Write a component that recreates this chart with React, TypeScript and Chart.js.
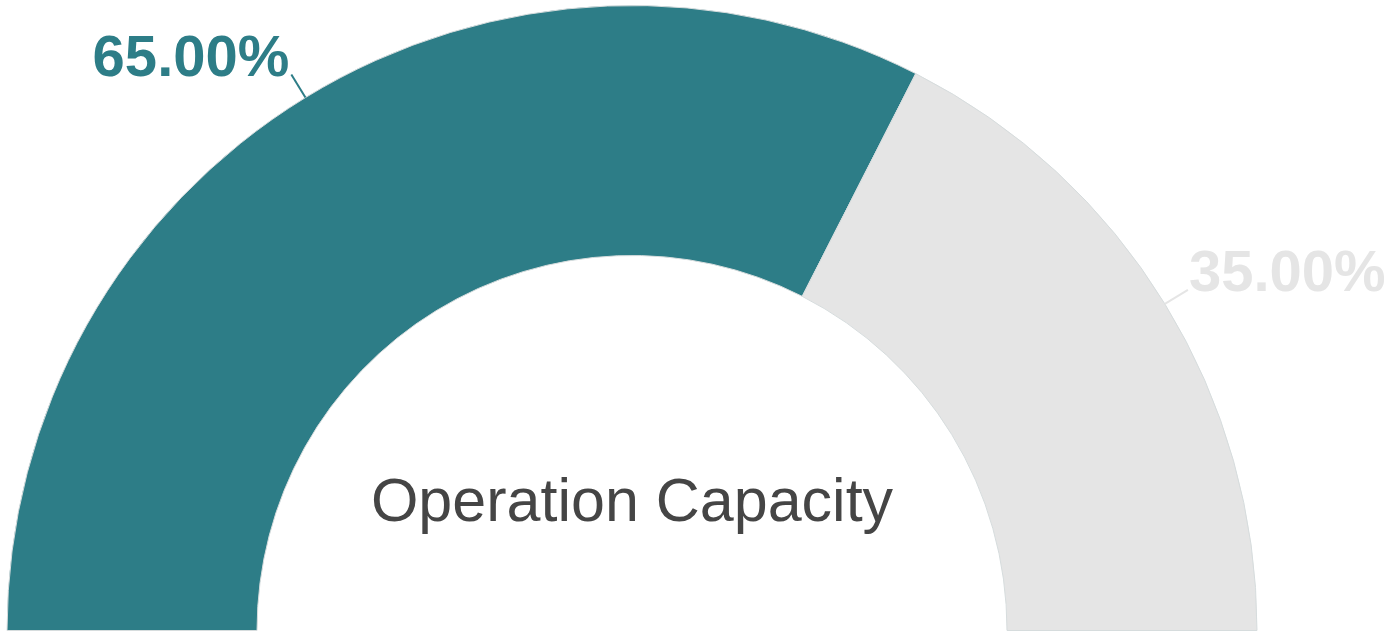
import React, { useEffect, useRef } from "react";
import { Chart, registerables } from "chart.js";

Chart.register(...registerables);

const categories = ["Used", "Remaining"];
const values = [65, 35];
const colors = ["#2d7d87", "#e5e5e5"];
const labelColors = ["#2d7d87", "#e5e5e5"];
const centerText = "Operation Capacity";

const labelPlugin = {
  id: "gaugeLabels",
  afterDraw(chart: any) {
    const ctx = chart.ctx;
    const meta = chart.getDatasetMeta(0);
    const total = values.reduce((a, b) => a + b, 0);
    ctx.save();
    meta.data.forEach((arc: any, i: number) => {
      const p = arc.getProps(["x", "y", "startAngle", "endAngle", "outerRadius"], true);
      const mid = (p.startAngle + p.endAngle) / 2;
      const c = Math.cos(mid);
      const s = Math.sin(mid);
      const x1 = p.x + c * p.outerRadius;
      const y1 = p.y + s * p.outerRadius;
      const x2 = x1 + c * 27;
      const y2 = y1 + s * 27;
      ctx.strokeStyle = labelColors[i];
      ctx.lineWidth = 2;
      ctx.beginPath();
      ctx.moveTo(x1, y1);
      ctx.lineTo(x2, y2);
      ctx.stroke();
      ctx.fillStyle = labelColors[i];
      ctx.font = "bold 58px 'Liberation Sans', Arial, sans-serif";
      ctx.textBaseline = "alphabetic";
      const txt = ((values[i] / total) * 100).toFixed(2) + "%";
      if (c < 0) {
        ctx.textAlign = "right";
        ctx.fillText(txt, x2 - 2, y2 + 1);
      } else {
        ctx.textAlign = "left";
        ctx.fillText(txt, x2 + 1, y2 + 1);
      }
    });
    const a0 = meta.data[0];
    if (a0) {
      ctx.fillStyle = "#454545";
      ctx.font = "61px 'Liberation Sans', Arial, sans-serif";
      ctx.textAlign = "center";
      ctx.textBaseline = "alphabetic";
      ctx.fillText(centerText, a0.x, a0.y - 110);
    }
    ctx.restore();
  },
};

export default function App() {
  const ref = useRef<HTMLCanvasElement | null>(null);
  useEffect(() => {
    if (!ref.current) return;
    const chart = new Chart(ref.current, {
      type: "doughnut",
      data: {
        labels: categories,
        datasets: [
          {
            data: values,
            backgroundColor: colors,
            borderColor: "#d6dcdd",
            borderWidth: 1,
          },
        ],
      },
      options: {
        animation: false,
        responsive: false,
        rotation: -90,
        circumference: 180,
        cutout: "60%",
        layout: { padding: { left: 5, right: 132, top: 5, bottom: 3 } },
        plugins: {
          legend: { display: false },
          tooltip: { enabled: false },
        },
      },
      plugins: [labelPlugin],
    });
    return () => chart.destroy();
  }, []);
  return (
    <div style={{ position: "fixed", left: 0, top: 0, width: 1391, height: 634, background: "#fff" }}>
      <canvas ref={ref} width={1391} height={634} style={{ width: 1391, height: 634 }} />
    </div>
  );
}
